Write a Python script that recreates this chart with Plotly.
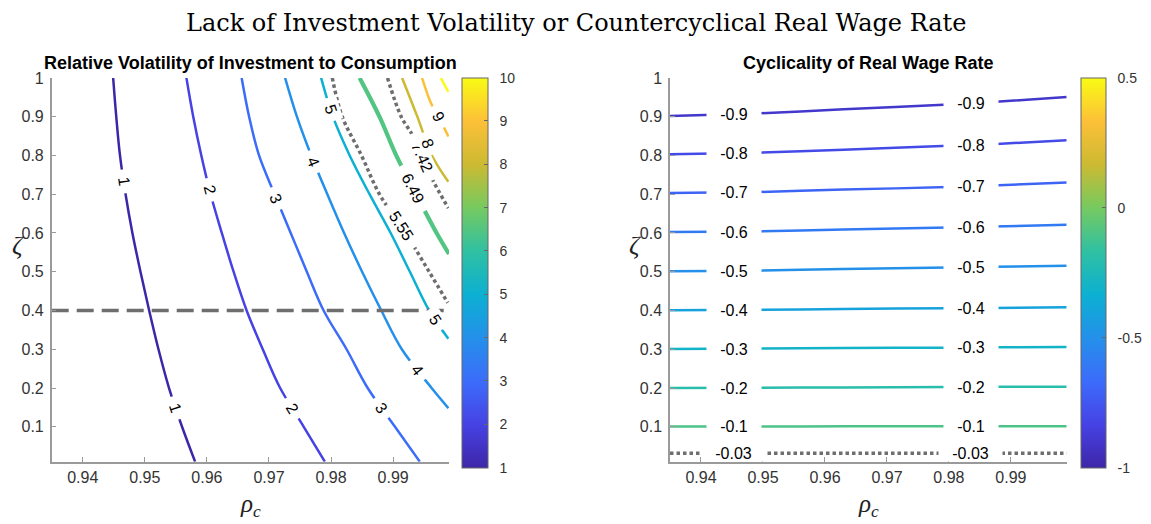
import numpy as np
import plotly.graph_objects as go
from plotly.colors import sample_colorscale

# ---------------------------------------------------------------- data
# Relative volatility of investment to consumption: contour lines (rho_c, zeta)
vol_z_full = [1.0, 0.9, 0.8, 0.7, 0.6, 0.5, 0.4, 0.3, 0.2, 0.1, 0.01]
vol_1_rho = [0.9449, 0.9454, 0.9460, 0.9469, 0.9480, 0.9493, 0.9507, 0.9522, 0.9539, 0.9560, 0.9581]
vol_2_rho = [0.9567, 0.9578, 0.9591, 0.9606, 0.9624, 0.9643, 0.9664, 0.9690, 0.9718, 0.9756, 0.9790]
vol_3_rho = [0.9656, 0.9668, 0.9684, 0.9709, 0.9735, 0.9761, 0.9788, 0.9825, 0.9859, 0.9903, 0.9943]

vol_4_z = [1.0, 0.9, 0.8, 0.7, 0.6, 0.5, 0.4, 0.3, 0.2, 0.148]
vol_4_rho = [0.9726, 0.9745, 0.9768, 0.9794, 0.9821, 0.9850, 0.9881, 0.9914, 0.9962, 0.9989]

vol_5_z = [1.0, 0.9, 0.8, 0.7, 0.6, 0.5, 0.4, 0.327]
vol_5_rho = [0.9784, 0.9803, 0.9830, 0.9862, 0.9896, 0.9927, 0.9958, 0.9989]

vol_555_z = [1.0, 0.9, 0.8, 0.7, 0.6, 0.5, 0.42]
vol_555_rho = [0.9802, 0.9818, 0.9849, 0.9878, 0.9920, 0.9958, 0.9988]

vol_649_z = [1.0, 0.9, 0.8, 0.7, 0.6, 0.546]
vol_649_rho = [0.9846, 0.9878, 0.9905, 0.9937, 0.9970, 0.9990]

vol_742_z = [1.0, 0.9, 0.85, 0.745, 0.664]
vol_742_rho = [0.9891, 0.9913, 0.9932, 0.9961, 0.9989]

vol_8_z = [1.0, 0.9, 0.8, 0.732]
vol_8_rho = [0.99145, 0.9939, 0.99625, 0.9989]

vol_9_z = [1.0, 0.935, 0.888, 0.849]
vol_9_rho = [0.99466, 0.99609, 0.99769, 0.9989]

vol_10_z = [1.0, 0.964]
vol_10_rho = [0.99769, 0.9989]

investment_threshold = 0.4  # horizontal reference line for zeta

# Cyclicality of the real wage rate: contour lines on a common rho_c grid
wage_rho = [0.935, 0.949, 0.963, 0.980, 0.987, 0.999]
wage_m09 = [0.9017, 0.9085, 0.9190, 0.9313, 0.9380, 0.9507]
wage_m08 = [0.8028, 0.8070, 0.8150, 0.8248, 0.8290, 0.8391]
wage_m07 = [0.7030, 0.7056, 0.7120, 0.7183, 0.7225, 0.7301]
wage_m06 = [0.6025, 0.6041, 0.6090, 0.6143, 0.6168, 0.6210]
wage_m05 = [0.5010, 0.5027, 0.5070, 0.5112, 0.5128, 0.5154]
wage_m04 = [0.4008, 0.4017, 0.4040, 0.4059, 0.4067, 0.4084]
wage_m03 = [0.3008, 0.3017, 0.3030, 0.3042, 0.3050, 0.3059]
wage_m02 = [0.2000, 0.2008, 0.2016, 0.2025, 0.2034, 0.2034]
wage_m01 = [0.1008, 0.1008, 0.1012, 0.1017, 0.1017, 0.1017]
wage_m003 = [0.032, 0.032, 0.032, 0.032, 0.032, 0.032]

wage_label_rho = [0.9453, 0.9835]

x_ticks = [0.94, 0.95, 0.96, 0.97, 0.98, 0.99]
y_ticks = [0.1, 0.2, 0.3, 0.4, 0.5, 0.6, 0.7, 0.8, 0.9, 1]
vol_cbar_ticks = [1, 2, 3, 4, 5, 6, 7, 8, 9, 10]
wage_cbar_ticks = [-1, -0.5, 0, 0.5]
wage_cbar_text = ["-1", "-0.5", "0", "0.5"]

# ---------------------------------------------------------------- styling
W, H = 1151, 524
RHO_RANGE = [0.935, 0.999]
ZETA_RANGE = [0.01, 1.0]
L_X0, L_X1 = 51.7, 449.0
R_X0, R_X1 = 670.0, 1066.7
Y_TOP, Y_BOT = 71.0, 460.7

SANS = "Liberation Sans, Arial, Helvetica, sans-serif"
SERIF = "Liberation Serif, Times New Roman, serif"
TITLE_SERIF = "DejaVu Serif, serif"
AXIS_GRAY = "#9a9a9a"
TICK_TXT = "#333333"
MARK_GRAY = "#6e6e6e"
PAD = "\u00a0\u00a0"

PARULA = [
    [0.000, "rgb(62,38,168)"],
    [0.111, "rgb(70,66,228)"],
    [0.222, "rgb(60,108,250)"],
    [0.333, "rgb(36,144,234)"],
    [0.444, "rgb(12,176,210)"],
    [0.556, "rgb(48,192,162)"],
    [0.667, "rgb(118,202,96)"],
    [0.778, "rgb(204,186,50)"],
    [0.889, "rgb(252,192,56)"],
    [1.000, "rgb(249,251,20)"],
]
VOL_MIN, VOL_MAX = 1, 10
WAGE_MIN, WAGE_MAX = -1, 0.5


def px(x):
    return x / W


def py(y):
    return 1 - y / H


def level_color(v, lo, hi):
    return sample_colorscale(PARULA, [(v - lo) / (hi - lo)])[0]


SX = (L_X1 - L_X0) / (RHO_RANGE[1] - RHO_RANGE[0])
SY = (Y_BOT - Y_TOP) / (ZETA_RANGE[1] - ZETA_RANGE[0])

fig = go.Figure()

# ---------------------------------------------------------------- left panel
vol_lines = [
    (1, vol_1_rho, vol_z_full, "solid", 2.5, None),
    (2, vol_2_rho, vol_z_full, "solid", 2.5, None),
    (3, vol_3_rho, vol_z_full, "solid", 2.5, None),
    (4, vol_4_rho, vol_4_z, "solid", 2.5, None),
    (5, vol_5_rho, vol_5_z, "solid", 2.5, None),
    (5.55, vol_555_rho, vol_555_z, "3.5px,3px", 3.5, MARK_GRAY),
    (6.49, vol_649_rho, vol_649_z, "solid", 4.2, None),
    (7.42, vol_742_rho, vol_742_z, "3.5px,3px", 3.5, MARK_GRAY),
    (8, vol_8_rho, vol_8_z, "solid", 2.5, None),
    (9, vol_9_rho, vol_9_z, "solid", 2.5, None),
    (10, vol_10_rho, vol_10_z, "solid", 2.5, None),
]
vol_by_level = {}
for lvl, rho, z, dash, lw, col in vol_lines:
    color = col or level_color(lvl, VOL_MIN, VOL_MAX)
    vol_by_level[lvl] = (rho, z)
    fig.add_trace(go.Scatter(
        x=rho, y=z, mode="lines", xaxis="x", yaxis="y",
        line=dict(color=color, width=lw, dash=dash, shape="spline", smoothing=1.0),
        hoverinfo="skip", showlegend=False))

fig.add_trace(go.Scatter(
    x=RHO_RANGE, y=[investment_threshold, investment_threshold], mode="lines",
    xaxis="x", yaxis="y", line=dict(color=MARK_GRAY, width=3.5, dash="17px,8px"),
    hoverinfo="skip", showlegend=False))

# colour bar carrier (points lie outside the visible range)
fig.add_trace(go.Scatter(
    x=[0.9, 0.9], y=[0.5, 0.5], mode="markers", xaxis="x", yaxis="y",
    marker=dict(color=[VOL_MIN, VOL_MAX], colorscale=PARULA, cmin=VOL_MIN, cmax=VOL_MAX,
                showscale=True, size=1,
                colorbar=dict(x=px(461.7), xanchor="left", y=py(70.7), yanchor="top",
                              lenmode="pixels", len=390, thickness=26, xpad=0, ypad=0,
                              outlinecolor="#666666", outlinewidth=1,
                              tickvals=vol_cbar_ticks,
                              ticktext=[PAD + str(v) for v in vol_cbar_ticks],
                              ticks="inside", ticklen=4, tickcolor="#666666",
                              tickfont=dict(family=SANS, size=14, color=TICK_TXT))),
    hoverinfo="skip", showlegend=False))

# inline contour labels (rotated along the line)
vol_labels = [(1, 0.732), (1, 0.148), (2, 0.711), (2, 0.148), (3, 0.69), (3, 0.148),
              (4, 0.783), (4, 0.246), (5, 0.918), (5, 0.377), (5.55, 0.618),
              (6.49, 0.715), (7.42, 0.795), (8, 0.83), (9, 0.90)]
annotations = []
for lvl, zl in vol_labels:
    rho, z = vol_by_level[lvl]
    zr = np.array(z[::-1])
    rr = np.array(rho[::-1])
    xl = float(np.interp(zl, zr, rr))
    dz = 0.03
    z_hi, z_lo = min(zl + dz, zr.max()), max(zl - dz, zr.min())
    r_hi = np.interp(z_hi, zr, rr)
    r_lo = np.interp(z_lo, zr, rr)
    ang = float(np.degrees(np.arctan2((z_hi - z_lo) * SY, (r_lo - r_hi) * SX)))
    txt = f"{lvl:g}"
    annotations.append(dict(
        x=xl, y=zl, xref="x", yref="y", text=txt, showarrow=False,
        textangle=ang, bgcolor="white", width=9 * len(txt) + 14, height=17,
        borderpad=0, font=dict(family=SANS, size=16, color="black")))

# ---------------------------------------------------------------- right panel
wage_lines = [(-0.9, wage_m09), (-0.8, wage_m08), (-0.7, wage_m07), (-0.6, wage_m06),
              (-0.5, wage_m05), (-0.4, wage_m04), (-0.3, wage_m03), (-0.2, wage_m02),
              (-0.1, wage_m01)]
for lvl, zs in wage_lines:
    fig.add_trace(go.Scatter(
        x=wage_rho, y=zs, mode="lines", xaxis="x2", yaxis="y2",
        line=dict(color=level_color(lvl, WAGE_MIN, WAGE_MAX), width=2.5,
                  shape="spline", smoothing=0.6),
        hoverinfo="skip", showlegend=False))
fig.add_trace(go.Scatter(
    x=wage_rho, y=wage_m003, mode="lines", xaxis="x2", yaxis="y2",
    line=dict(color=MARK_GRAY, width=3.5, dash="3.5px,3px"),
    hoverinfo="skip", showlegend=False))

fig.add_trace(go.Scatter(
    x=[0.9, 0.9], y=[0.5, 0.5], mode="markers", xaxis="x2", yaxis="y2",
    marker=dict(color=[WAGE_MIN, WAGE_MAX], colorscale=PARULA, cmin=WAGE_MIN,
                cmax=WAGE_MAX, showscale=True, size=1,
                colorbar=dict(x=px(1080.7), xanchor="left", y=py(70.7), yanchor="top",
                              lenmode="pixels", len=390, thickness=25, xpad=0, ypad=0,
                              outlinecolor="#666666", outlinewidth=1,
                              tickvals=wage_cbar_ticks,
                              ticktext=[PAD + t for t in wage_cbar_text],
                              ticks="inside", ticklen=4, tickcolor="#666666",
                              tickfont=dict(family=SANS, size=14, color=TICK_TXT))),
    hoverinfo="skip", showlegend=False))

for lvl, zs in wage_lines + [(-0.03, wage_m003)]:
    for rl in wage_label_rho:
        zl = float(np.interp(rl, wage_rho, zs))
        txt = f"{lvl:g}"
        annotations.append(dict(
            x=rl, y=zl, xref="x2", yref="y2", text=txt, showarrow=False,
            bgcolor="white", width=9 * len(txt) + 18, height=16, borderpad=0,
            font=dict(family=SANS, size=16, color="black")))

# ---------------------------------------------------------------- titles
def paper_text(x, y, text, font):
    return dict(x=px(x), y=py(y), xref="paper", yref="paper", showarrow=False,
                text=text, font=font, xanchor="center", yanchor="middle")


annotations += [
    paper_text(575.5, 15, "Lack of Investment Volatility or Countercyclical Real Wage Rate",
               dict(family=TITLE_SERIF, size=24, color="black")),
    paper_text(250.5, 56, "<b>Relative Volatility of Investment to Consumption</b>",
               dict(family=SANS, size=18, color="black")),
    paper_text(868.3, 56, "<b>Cyclicality of Real Wage Rate</b>",
               dict(family=SANS, size=18, color="black")),
    paper_text(250.5, 505, "<i>ρ</i><sub><i>c</i></sub>",
               dict(family=SERIF, size=25, color="#222222")),
    paper_text(868.3, 505, "<i>ρ</i><sub><i>c</i></sub>",
               dict(family=SERIF, size=25, color="#222222")),
    paper_text(18, 241, "<i>ζ</i>", dict(family=SERIF, size=26, color="#222222")),
    paper_text(635, 241, "<i>ζ</i>", dict(family=SERIF, size=26, color="#222222")),
]

axis_common = dict(showline=True, linecolor=AXIS_GRAY, linewidth=1.5, ticks="inside",
                   ticklen=5, tickcolor=AXIS_GRAY, showgrid=False, zeroline=False,
                   tickfont=dict(family=SANS, size=16, color=TICK_TXT), mirror=False)

fig.update_layout(
    width=W, height=H, margin=dict(l=0, r=0, t=0, b=0),
    paper_bgcolor="white", plot_bgcolor="white", showlegend=False,
    xaxis=dict(domain=[px(L_X0), px(L_X1)], range=RHO_RANGE, tickvals=x_ticks,
               anchor="y", **axis_common),
    yaxis=dict(domain=[py(Y_BOT), py(Y_TOP)], range=ZETA_RANGE, tickvals=y_ticks,
               anchor="x", ticklabelstandoff=3, **axis_common),
    xaxis2=dict(domain=[px(R_X0), px(R_X1)], range=RHO_RANGE, tickvals=x_ticks,
                anchor="y2", **axis_common),
    yaxis2=dict(domain=[py(Y_BOT), py(Y_TOP)], range=ZETA_RANGE, tickvals=y_ticks,
                anchor="x2", ticklabelstandoff=3, **axis_common),
    annotations=annotations,
)

fig.write_html("out.html")
